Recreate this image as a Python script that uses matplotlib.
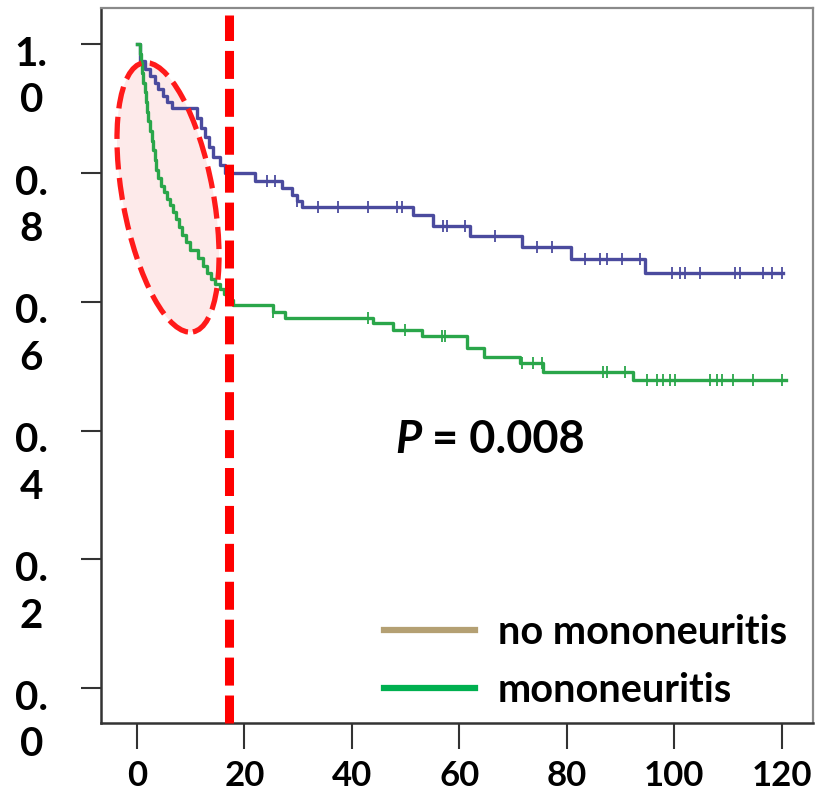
import numpy as np
import matplotlib
matplotlib.use("Agg")
import matplotlib.pyplot as plt
from matplotlib.patches import Ellipse
from matplotlib.lines import Line2D
from matplotlib import transforms

plt.rcParams['font.family'] = ['Lato', 'DejaVu Sans']

# Kaplan-Meier curves: event times (months) and survival after each step
no_mono_t = [0, 0.5, 1.5, 2.5, 3.3, 4.0, 4.8, 5.6, 6.5, 11.2, 12.0, 12.7, 13.4,
             14.2, 15.4, 16.4, 22.0, 27.0, 28.8, 29.7, 30.7, 51.3, 55.0, 62.0,
             71.6, 80.7, 94.5, 120.3]
no_mono_s = [1.0, 0.973, 0.962, 0.951, 0.940, 0.930, 0.920, 0.910, 0.900, 0.885,
             0.870, 0.855, 0.840, 0.825, 0.812, 0.800, 0.787, 0.776, 0.765, 0.756,
             0.747, 0.734, 0.717, 0.702, 0.685, 0.666, 0.644, 0.644]
no_mono_cens = [24.2, 25.7, 29.8, 33.7, 37.4, 43.0, 48.4, 49.3, 56.9, 57.7, 61.0,
                66.6, 74.4, 77.2, 83.3, 86.1, 87.4, 90.2, 93.6, 99.5, 101.0, 102.0,
                104.7, 111.3, 112.2, 116.5, 118.1, 120.0]

mono_t = [0, 0.6, 0.8, 1.0, 1.2, 1.4, 1.6, 1.8, 2.1, 2.4, 2.7, 3.0, 3.3, 3.6, 4.0,
          4.5, 5.0, 5.6, 6.2, 6.7, 7.2, 7.8, 8.4, 9.1, 9.8, 11.4, 12.2, 13.0, 13.8,
          14.6, 15.4, 16.2, 17.0, 17.9, 25.3, 27.5, 43.9, 47.6, 53.0, 61.4, 64.5,
          71.3, 75.5, 92.3, 120.8]
mono_s = [1.0, 0.985, 0.970, 0.955, 0.940, 0.925, 0.910, 0.895, 0.880, 0.865, 0.850,
          0.835, 0.820, 0.805, 0.792, 0.780, 0.770, 0.760, 0.750, 0.740, 0.728,
          0.716, 0.704, 0.692, 0.680, 0.668, 0.656, 0.645, 0.636, 0.628, 0.620,
          0.612, 0.603, 0.595, 0.584, 0.575, 0.567, 0.556, 0.547, 0.528, 0.514,
          0.505, 0.491, 0.478, 0.478]
mono_cens = [25.3, 43.0, 49.9, 56.7, 57.3, 71.6, 73.7, 75.3, 86.7, 87.4, 90.8, 94.9,
             96.7, 97.9, 99.2, 100.1, 106.6, 107.9, 108.8, 110.9, 114.6, 120.0]

x_ticks = [0, 20, 40, 60, 80, 100, 120]
y_ticks = [0.0, 0.2, 0.4, 0.6, 0.8, 1.0]
y_tick_labels = ["0.\n0", "0.\n2", "0.\n4", "0.\n6", "0.\n8", "1.\n0"]
legend_labels = ["no mononeuritis", "mononeuritis"]
p_label = "0.008"
cutoff_month = 17.1

BLUE = "#4b4b9e"
GREEN = "#2aa64a"

fig = plt.figure(figsize=(8.17, 7.94), dpi=100)
ax = fig.add_axes([101 / 817, 71 / 794, 712 / 817, 715 / 794])
ax.set_xlim(-6.7, 125.8)
ax.set_ylim(-0.054, 1.056)


def surv_at(t, s, times):
    idx = np.searchsorted(t, times, side='right') - 1
    return np.asarray(s)[idx]


# highlighted early-drop region
ell_tr = transforms.Affine2D().scale(fig.dpi / 72.0) + \
    transforms.ScaledTranslation(5.77, 0.762, ax.transData)
ax.add_patch(Ellipse((0, 0), width=2 * 32.6, height=2 * 98.5, angle=10.5,
                     facecolor="#fdeaea", edgecolor="none", transform=ell_tr,
                     zorder=1))

ax.step(no_mono_t, no_mono_s, where='post', color=BLUE, lw=2.4, zorder=3)
ax.step(mono_t, mono_s, where='post', color=GREEN, lw=2.4, zorder=3)
ax.plot(no_mono_cens, surv_at(no_mono_t, no_mono_s, no_mono_cens), ls='none',
        marker='|', ms=8, mew=1.3, color=BLUE, zorder=3)
ax.plot(mono_cens, surv_at(mono_t, mono_s, mono_cens), ls='none',
        marker='|', ms=8, mew=1.3, color=GREEN, zorder=3)

ax.add_patch(Ellipse((0, 0), width=2 * 32.6, height=2 * 98.5, angle=10.5,
                     facecolor="none", edgecolor="#ff1a1a", lw=3.8,
                     linestyle=(0, (4.2, 1.6)), transform=ell_tr, zorder=4))

# cut-off line
ax.plot([cutoff_month, cutoff_month], [-0.054, 1.045], color="#ff0000", lw=6.5,
        linestyle=(0, (3.1, 1.1)), solid_capstyle='butt', dash_capstyle='butt',
        zorder=5, clip_on=False)

# axes styling
for side in ['left', 'bottom']:
    ax.spines[side].set_color("#333333")
    ax.spines[side].set_linewidth(1.8)
for side in ['top', 'right']:
    ax.spines[side].set_color("#8a8a8a")
    ax.spines[side].set_linewidth(1.6)

ax.set_xticks(x_ticks)
ax.set_xticklabels([str(v) for v in x_ticks], fontsize=25, fontweight='bold')
ax.tick_params(axis='x', direction='out', length=19, width=1.5, color="#333333",
               pad=8)
ax.set_yticks(y_ticks)
ax.set_yticklabels([])
ax.tick_params(axis='y', direction='out', length=14.5, width=1.5, color="#333333")

ylab_tr = transforms.blended_transform_factory(ax.transAxes, ax.transData)
for v, lab in zip(y_ticks, y_tick_labels):
    ax.text(-0.098, v + 0.013, lab, transform=ylab_tr, ha='center', va='top',
            fontsize=29, fontweight='bold', linespacing=1.32)

# p-value
pt = ax.text(48.0, 0.365, "P", fontsize=32.5, fontweight='bold', style='italic',
             ha='left', va='baseline')
ax.annotate(" = " + p_label, xy=(1, 0), xycoords=pt, fontsize=32.5,
            fontweight='bold', ha='left', va='bottom')

handles = [Line2D([], [], color="#b4a073", lw=4.5),
           Line2D([], [], color="#00b050", lw=4.5)]
leg = fig.legend(handles, legend_labels, loc='upper left',
                 bbox_to_anchor=(384 / 817, 1 - 614 / 794), frameon=False,
                 prop={'size': 28.5, 'weight': 'bold'}, handlelength=2.3,
                 handletextpad=0.58, labelspacing=0.52, borderpad=0,
                 borderaxespad=0)

fig.savefig("out.png", dpi=100, facecolor="white")
